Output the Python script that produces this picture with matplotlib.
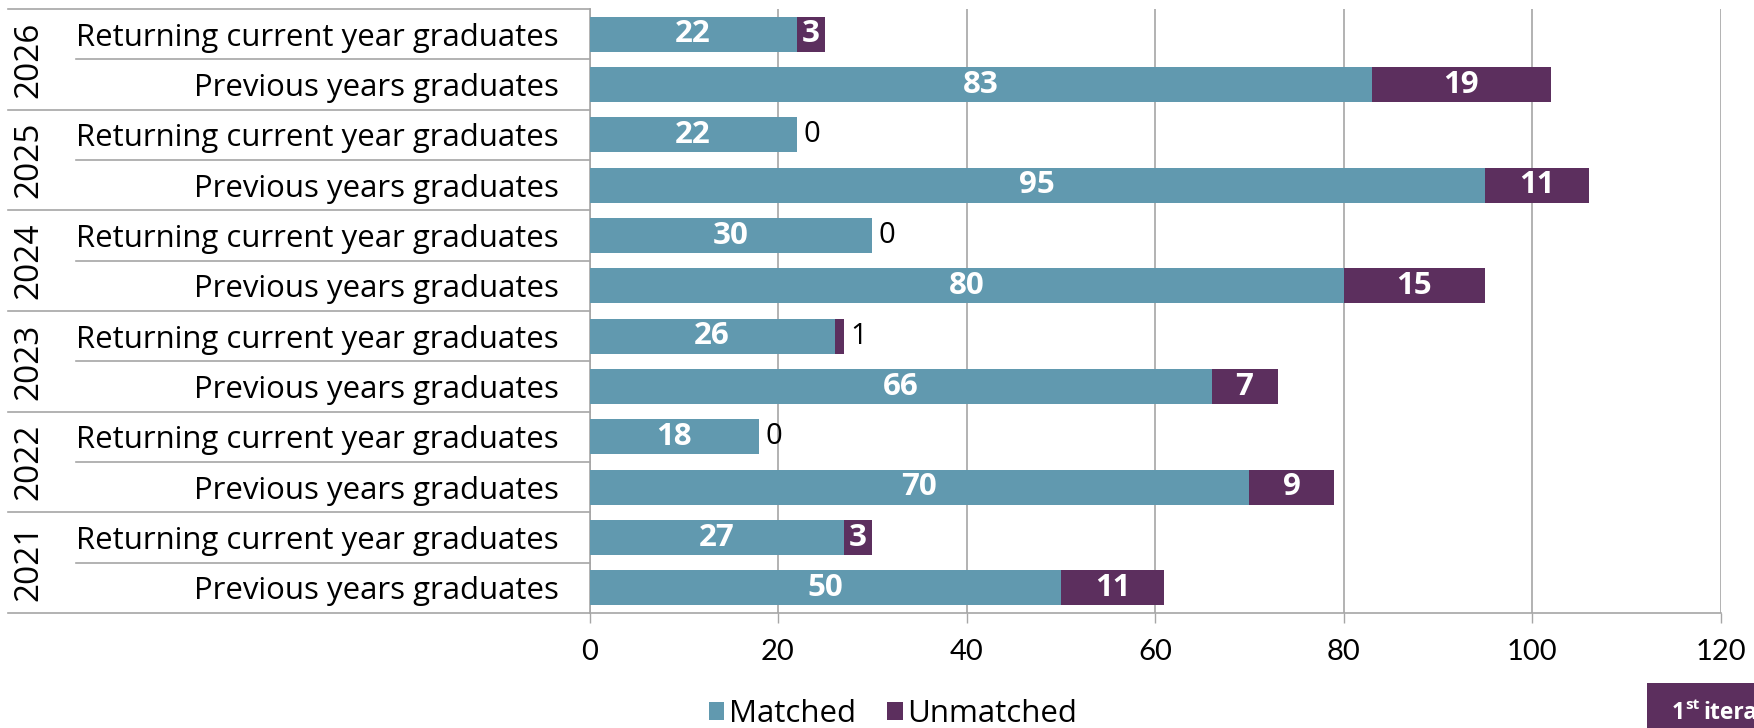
import matplotlib
matplotlib.use("Agg")
import matplotlib.pyplot as plt
import matplotlib.transforms as mtransforms
from matplotlib.patches import Rectangle
import numpy as np

# data, top to bottom
years = ["2026", "2025", "2024", "2023", "2022", "2021"]
categories = ["Returning current year graduates", "Previous years graduates"]
returning_matched = [22, 22, 30, 26, 18, 27]
returning_unmatched = [3, 0, 0, 1, 0, 3]
previous_matched = [83, 95, 80, 66, 70, 50]
previous_unmatched = [19, 11, 15, 7, 9, 11]
x_ticks = [0, 20, 40, 60, 80, 100, 120]

MATCHED = "#6199AF"
UNMATCHED = "#5C2F5E"
GRID = "#A6A6A6"
TICK_FONT = "Lato"
TEXT_FONT = "Open Sans"

# interleave rows: returning then previous for each year
matched, unmatched, row_labels = [], [], []
for i in range(len(years)):
    matched += [returning_matched[i], previous_matched[i]]
    unmatched += [returning_unmatched[i], previous_unmatched[i]]
    row_labels += categories
matched = np.array(matched)
unmatched = np.array(unmatched)
y = np.arange(len(matched))

W, H = 1754, 728
fig = plt.figure(figsize=(W / 100, H / 100), dpi=100)
ax = fig.add_axes([589.5 / W, 1 - 613 / H, (1720.5 - 589.5) / W, (613 - 9) / H])

ax.barh(y, matched, height=0.7, color=MATCHED, label="Matched", zorder=3)
ax.barh(y, unmatched, left=matched, height=0.7, color=UNMATCHED, label="Unmatched", zorder=3)

ax.set_xlim(0, 120)
ax.set_ylim(len(y) - 0.5, -0.5)
ax.set_xticks(x_ticks)
ax.set_xticklabels([str(t) for t in x_ticks], fontsize=21, family=TICK_FONT)
ax.set_yticks(y)
ax.set_yticklabels(row_labels, fontsize=22.4, family=TEXT_FONT)
ax.tick_params(axis="y", length=0, pad=22)
ax.tick_params(axis="x", length=7, width=1, color=GRID, pad=12)
ax.grid(axis="x", color=GRID, linewidth=1.2, zorder=0)
for s in ["top", "right"]:
    ax.spines[s].set_visible(False)
for s in ["left", "bottom"]:
    ax.spines[s].set_color(GRID)
    ax.spines[s].set_linewidth(1.2)

# data labels
for yi, m, u in zip(y, matched, unmatched):
    ax.text(m / 2, yi, str(m), ha="center", va="center", color="white",
            fontsize=22.5, fontweight="bold", family=TEXT_FONT, zorder=4)
    if u >= 2:
        ax.text(m + u / 2, yi, str(u), ha="center", va="center", color="white",
                fontsize=22.5, fontweight="bold", family=TEXT_FONT, zorder=4)
    else:
        ax.text(m + u + 0.7, yi, str(u), ha="left", va="center", color="black",
                fontsize=21, family=TEXT_FONT, zorder=4)

# separators and year labels on the left
tr = mtransforms.blended_transform_factory(fig.transFigure, ax.transData)
for k in range(len(years) + 1):
    yb = 2 * k - 0.5
    ax.plot([8 / W, 589.5 / W], [yb, yb], transform=tr, color=GRID,
            linewidth=1.2, clip_on=False)
for k, yr in enumerate(years):
    ax.plot([76 / W, 589.5 / W], [2 * k + 0.5] * 2, transform=tr, color=GRID,
            linewidth=1.2, clip_on=False)
    ax.text(29 / W, 2 * k + 0.5, yr, transform=tr, rotation=90, ha="center",
            va="center", fontsize=24, family=TEXT_FONT)

fig.legend(loc="center", bbox_to_anchor=(893 / W, 1 - 714 / H), ncol=2,
           frameon=False, prop={"family": TEXT_FONT, "size": 22.5},
           handlelength=0.5, handleheight=0.5, handletextpad=0.15,
           columnspacing=1.0)

# partially visible tag at the bottom right
fig.patches.append(Rectangle((1647 / W, 0), (W - 1647) / W, (H - 683) / H,
                             transform=fig.transFigure, facecolor=UNMATCHED,
                             edgecolor="none"))
fig.text(1672 / W, 1 - 719 / H, "1", color="white", fontsize=16.5,
         fontweight="bold", family=TEXT_FONT, va="baseline")
fig.text(1685 / W, 1 - 709 / H, "st", color="white", fontsize=11,
         fontweight="bold", family=TEXT_FONT, va="baseline")
fig.text(1703 / W, 1 - 719 / H, "iteration", color="white", fontsize=16.5,
         fontweight="bold", family=TEXT_FONT, va="baseline")

fig.savefig("out.png", dpi=100)
